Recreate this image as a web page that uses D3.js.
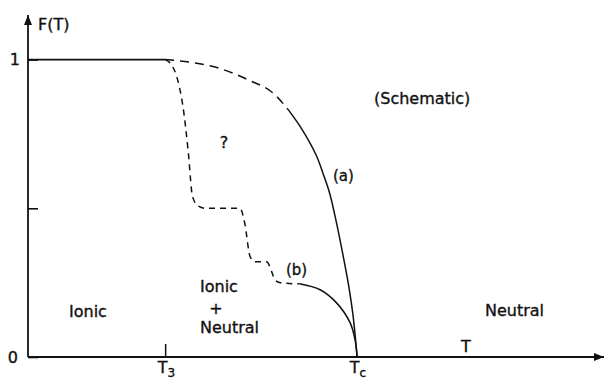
<!DOCTYPE html>
<html>
<head>
<meta charset="utf-8">
<script src="https://cdn.jsdelivr.net/npm/d3@7"></script>
<style>
  html, body { margin: 0; padding: 0; background: #fff; }
  svg { display: block; font-family: "DejaVu Sans", sans-serif; }
</style>
</head>
<body>
<svg id="chart" width="606" height="381"></svg>
<script>
// ---- data (T in arbitrary units, F(T) fraction) ----
const ionicLine = [[0, 1], [1, 1]];
const curveADashed = [[1.0, 1.0], [1.2, 0.99], [1.4, 0.97], [1.6, 0.933], [1.8, 0.882], [1.9, 0.83]];
const curveASolid = [[1.9, 0.83], [2.0, 0.764], [2.1, 0.68], [2.15, 0.619], [2.2, 0.55], [2.25, 0.45],
  [2.3, 0.335], [2.34, 0.235], [2.37, 0.14], [2.4, 0]];
const curveBDashed = [[1.0, 1.0], [1.05, 0.98], [1.08, 0.949], [1.108, 0.899], [1.13, 0.842], [1.167, 0.697],
  [1.2, 0.539], [1.24, 0.508], [1.29, 0.5], [1.546, 0.5], [1.58, 0.451], [1.62, 0.337], [1.656, 0.32],
  [1.74, 0.32], [1.78, 0.283], [1.80, 0.259], [1.85, 0.249], [1.98, 0.246]];
const curveBSolid = [[1.98, 0.246], [2.13, 0.226], [2.25, 0.182], [2.35, 0.114], [2.385, 0.057], [2.4, 0]];
const xTickValues = [1, 2.4];
const xTickLabels = [["T", "3"], ["T", "c"]];
const yTickValues = [0, 0.5, 1];
const yTickLabels = ["0", "", "1"];

const svg = d3.select("#chart");
const x = d3.scaleLinear().domain([0, 4.2]).range([28, 604]);
const y = d3.scaleLinear().domain([0, 1.15]).range([357, 15]);

// arrow markers
const defs = svg.append("defs");
defs.append("marker").attr("id", "arr").attr("viewBox", "0 0 10 8")
  .attr("refX", 10).attr("refY", 4).attr("markerWidth", 10).attr("markerHeight", 8)
  .attr("markerUnits", "userSpaceOnUse").attr("orient", "auto")
  .append("path").attr("d", "M0,0 L10,4 L0,8 Z").attr("fill", "#111");

// axis lines
svg.append("line").attr("x1", x(0)).attr("y1", y(0)).attr("x2", x(4.2)).attr("y2", y(0))
  .attr("stroke", "#111").attr("stroke-width", 2).attr("marker-end", "url(#arr)");
svg.append("line").attr("x1", x(0)).attr("y1", y(0)).attr("x2", x(0)).attr("y2", y(1.15))
  .attr("stroke", "#111").attr("stroke-width", 1.8).attr("marker-end", "url(#arr)");

// y axis ticks
const yAxis = d3.axisLeft(y).tickValues(yTickValues).tickFormat((d, i) => yTickLabels[i])
  .tickSizeInner(-10).tickSizeOuter(0).tickPadding(8);
const gy = svg.append("g").attr("transform", `translate(${x(0)},0)`).call(yAxis);
gy.select(".domain").remove();
gy.selectAll(".tick line").attr("stroke", "#111").attr("stroke-width", 1.6);
gy.selectAll(".tick text").attr("font-size", 16).attr("fill", "#111")
  .attr("stroke", "#111").attr("stroke-width", 0.35)
  .attr("font-family", "DejaVu Sans").attr("x", (d) => d === 0 ? -10 : -8);

// x axis ticks
const xAxis = d3.axisBottom(x).tickValues(xTickValues).tickFormat("")
  .tickSizeInner(-13).tickSizeOuter(0).tickPadding(7);
const gx = svg.append("g").attr("transform", `translate(0,${y(0)})`).call(xAxis);
gx.select(".domain").remove();
gx.selectAll(".tick line").attr("stroke", "#111").attr("stroke-width", 1.5)
  .attr("display", (d, i) => i === 0 ? null : "none");
gx.selectAll(".tick text").each(function (d, i) {
  const t = d3.select(this).attr("font-size", 16).attr("fill", "#111")
    .attr("stroke", "#111").attr("stroke-width", 0.35)
    .attr("font-family", "DejaVu Sans").attr("y", 16).attr("dy", 0).attr("text-anchor", "start")
    .attr("x", -8);
  t.text(null);
  t.append("tspan").text(xTickLabels[i][0]);
  t.append("tspan").attr("font-size", 12).attr("dy", 4).text(xTickLabels[i][1]);
});

// curves
const line = d3.line().x(d => x(d[0])).y(d => y(d[1])).curve(d3.curveMonotoneX);
const smooth = d3.line().x(d => x(d[0])).y(d => y(d[1])).curve(d3.curveCatmullRom.alpha(0.5));
const g = svg.append("g").attr("fill", "none").attr("stroke", "#111");
g.append("path").attr("d", d3.line().x(d => x(d[0])).y(d => y(d[1]))(ionicLine)).attr("stroke-width", 1.6);
g.append("path").attr("d", line(curveADashed)).attr("stroke-width", 1.5).attr("stroke-dasharray", "9,6");
g.append("path").attr("d", smooth(curveASolid)).attr("stroke-width", 1.5);
g.append("path").attr("d", line(curveBDashed)).attr("stroke-width", 1.5).attr("stroke-dasharray", "6,5");
g.append("path").attr("d", smooth(curveBSolid)).attr("stroke-width", 1.5);

// labels
const labels = [
  { t: "F(T)", x: 38, y: 30, a: "start", s: 16 },
  { t: "(Schematic)", x: 374, y: 104, a: "start", s: 16 },
  { t: "?", x: 224, y: 148, a: "middle", s: 16 },
  { t: "(a)", x: 333, y: 181, a: "start", s: 15 },
  { t: "(b)", x: 286, y: 275, a: "start", s: 15 },
  { t: "Ionic", x: 69, y: 317, a: "start", s: 16 },
  { t: "Ionic", x: 200, y: 292, a: "start", s: 16 },
  { t: "+", x: 216, y: 314, a: "middle", s: 16 },
  { t: "Neutral", x: 200, y: 333, a: "start", s: 16 },
  { t: "Neutral", x: 485, y: 316, a: "start", s: 16 },
  { t: "T", x: 461, y: 352, a: "start", s: 16 }
];
svg.append("g").selectAll("text").data(labels).join("text")
  .attr("x", d => d.x).attr("y", d => d.y).attr("text-anchor", d => d.a)
  .attr("font-size", d => d.s).attr("fill", "#111")
  .attr("stroke", "#111").attr("stroke-width", 0.35).text(d => d.t);
</script>
</body>
</html>
